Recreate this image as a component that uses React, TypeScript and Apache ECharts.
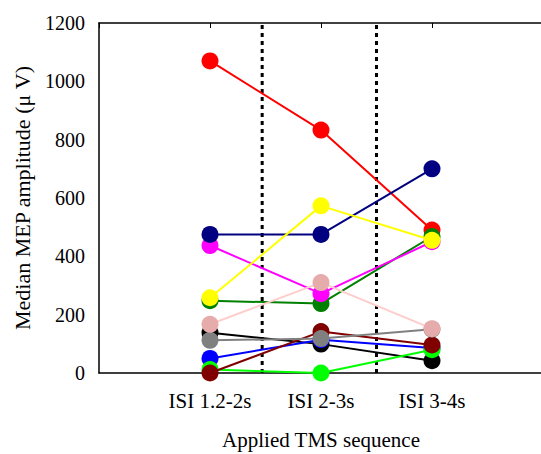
import React, { useEffect, useRef } from "react";
import * as echarts from "echarts";

const categories = ["ISI 1.2-2s", "ISI 2-3s", "ISI 3-4s"];
const yTicks = [0, 200, 400, 600, 800, 1000, 1200];
const separators = [1.47, 2.5];

const red = [1070, 833, 490];
const green = [248, 238, 468];
const magenta = [437, 272, 450];
const navy = [475, 475, 700];
const yellow = [258, 573, 455];
const black = [138, 99, 42];
const blue = [50, 114, 86];
const lime = [12, 0, 80];
const maroon = [0, 142, 96];
const gray = [112, 118, 150];
const pink = [167, 310, 152];

const subjects = [
  { name: "S1", values: red, line: "#ff0000", marker: "#ff0000" },
  { name: "S2", values: green, line: "#008000", marker: "#008000" },
  { name: "S3", values: magenta, line: "#ff00ff", marker: "#ff00ff" },
  { name: "S4", values: navy, line: "#000080", marker: "#000080" },
  { name: "S5", values: yellow, line: "#ffff00", marker: "#ffff00" },
  { name: "S6", values: black, line: "#000000", marker: "#000000" },
  { name: "S7", values: blue, line: "#0000ff", marker: "#0000ff" },
  { name: "S8", values: lime, line: "#00ff00", marker: "#00ff00" },
  { name: "S9", values: maroon, line: "#800000", marker: "#800000" },
  { name: "S10", values: gray, line: "#808080", marker: "#808080" },
  { name: "S11", values: pink, line: "#ffcccc", marker: "#e6acac" },
];

const FONT = "'Liberation Serif', 'Times New Roman', serif";

export default function App() {
  const ref = useRef<HTMLDivElement>(null);
  useEffect(() => {
    if (!ref.current) return;
    const chart = echarts.init(ref.current, undefined, { renderer: "svg" });
    const series: any[] = [];
    separators.forEach((s, i) => {
      series.push({
        name: "sep" + i,
        type: "line",
        data: [
          [s, yTicks[0]],
          [s, yTicks[yTicks.length - 1]],
        ],
        symbol: "none",
        lineStyle: { color: "#000", width: 3, type: [4, 4] },
        z: 1,
      });
    });
    subjects.forEach((sub, i) => {
      series.push({
        name: sub.name,
        type: "line",
        data: sub.values.map((v, j) => [j + 1, v]),
        symbol: "circle",
        symbolSize: 17,
        lineStyle: { color: sub.line, width: 2 },
        itemStyle: { color: sub.marker },
        z: 2 + i,
      });
    });
    chart.setOption({
      animation: false,
      grid: {
        left: 99,
        top: 23,
        width: 444,
        height: 350,
        containLabel: false,
        outerBoundsMode: "none",
      },
      xAxis: [
        {
          type: "value",
          min: 0,
          max: 4,
          interval: 1,
          position: "bottom",
          name: "Applied TMS sequence",
          nameLocation: "middle",
          nameGap: 56,
          nameTextStyle: { fontFamily: FONT, fontSize: 21, color: "#000" },
          axisLine: { show: true, lineStyle: { color: "#000", width: 1.5 } },
          axisTick: { show: false },
          splitLine: { show: false },
          axisLabel: {
            fontFamily: FONT,
            fontSize: 21,
            color: "#000",
            margin: 17,
            formatter: (v: number) => categories[v - 1] ?? "",
          },
        },
        {
          type: "value",
          min: 0,
          max: 4,
          interval: 1,
          position: "top",
          axisLine: { show: true, lineStyle: { color: "#000", width: 1.5 } },
          axisTick: { show: true, inside: true, length: 5, lineStyle: { color: "#000" } },
          axisLabel: { show: false },
          splitLine: { show: false },
        },
      ],
      yAxis: {
        type: "value",
        min: 0,
        max: 1200,
        interval: 200,
        name: "Median MEP amplitude (μ V)",
        nameLocation: "middle",
        nameGap: 66,
        nameTextStyle: { fontFamily: FONT, fontSize: 22, color: "#000" },
        axisLine: { show: true, lineStyle: { color: "#000", width: 1.5 } },
        axisTick: { show: false },
        splitLine: { show: false },
        axisLabel: {
          fontFamily: FONT,
          fontSize: 20,
          color: "#000",
          margin: 14,
          formatter: (v: number) => String(v),
        },
      },
      series,
    });
    return () => chart.dispose();
  }, []);
  return <div ref={ref} style={{ width: 541, height: 454, position: "absolute", left: 0, top: 0 }} />;
}
